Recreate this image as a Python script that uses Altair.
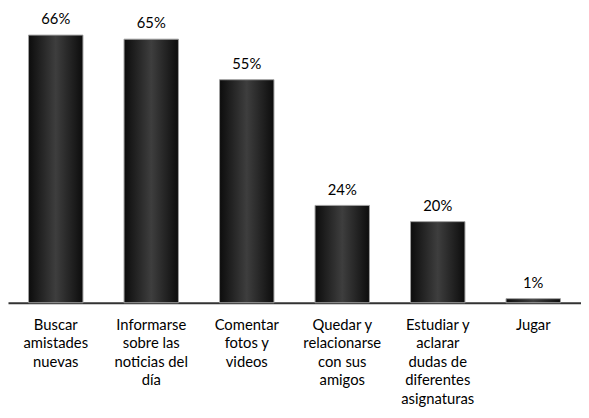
import altair as alt
import pandas as pd

categories = [
    "Buscar|amistades|nuevas",
    "Informarse|sobre las|noticias del|día",
    "Comentar|fotos y|videos",
    "Quedar y|relacionarse|con sus|amigos",
    "Estudiar y|aclarar|dudas de|diferentes|asignaturas",
    "Jugar",
]
values = [66, 65, 55, 24, 20, 1]
labels = ["66%", "65%", "55%", "24%", "20%", "1%"]

df = pd.DataFrame({"cat": categories, "val": values, "lab": labels})

FONT = "Lato"

x = alt.X("cat:N", sort=categories, title=None,
          scale=alt.Scale(paddingInner=0.43, paddingOuter=0.215),
          axis=alt.Axis(labelExpr="split(datum.label, '|')", labelAngle=0,
                        ticks=False, domainColor="#333333", domainWidth=2,
                        labelFont=FONT, labelFontSize=15, labelColor="#000000",
                        labelLineHeight=18.8, labelPadding=15, labelBaseline="top",
                        labelAlign="center", labelLimit=0, grid=False))
y = alt.Y("val:Q", title=None, scale=alt.Scale(domain=[0, 72], nice=False), axis=None)

grad = alt.Gradient(
    gradient="linear", x1=0, x2=1, y1=0, y2=0,
    stops=[
        alt.GradientStop(offset=0, color="#0c0c0c"),
        alt.GradientStop(offset=0.5, color="#3e3e3e"),
        alt.GradientStop(offset=1, color="#0c0c0c"),
    ],
)

bars = alt.Chart(df).mark_bar(color=grad, stroke="#a0a0a0", strokeWidth=1).encode(x=x, y=y)
text = alt.Chart(df).mark_text(font=FONT, fontSize=15, color="#000000",
                               baseline="alphabetic", dy=-11).encode(
    x=alt.X("cat:N", sort=categories), y="val:Q", text="lab:N")

chart = (bars + text).properties(
    width=581, height=296,
    autosize=alt.AutoSizeParams(type="none"),
    padding={"left": 0, "right": 0, "top": 0, "bottom": 110},
).configure_view(stroke=None)
chart.save("out.html", embed_options={"renderer": "svg", "actions": False})
